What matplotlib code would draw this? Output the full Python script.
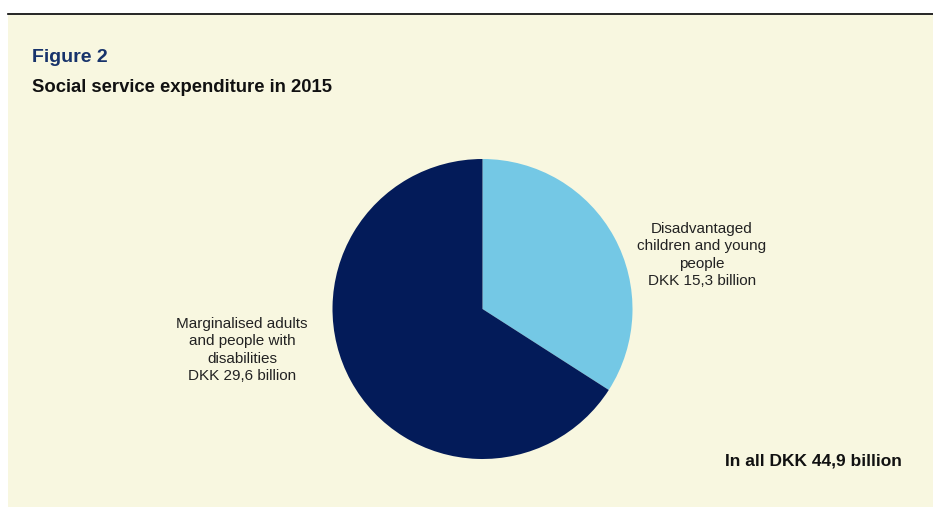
import matplotlib.pyplot as plt
from matplotlib.patches import Rectangle
from matplotlib.lines import Line2D

# Expenditure by area, DKK billion
segments = ["Disadvantaged\nchildren and young\npeople",
            "Marginalised adults\nand people with\ndisabilities"]
values = [15.3, 29.6]
colors = ["#74C8E5", "#031B59"]
total = 44.9

W, H = 933, 507
fig = plt.figure(figsize=(W / 100, H / 100), dpi=100)
fig.patch.set_facecolor("white")

def fx(px):
    return px / W

def fy(py):
    return 1 - py / H

# background panel and rule on top
fig.patches.append(Rectangle((fx(8), 0), 1 - fx(8), fy(15), transform=fig.transFigure,
                             facecolor="#F8F7E0", edgecolor="none", zorder=-5))
fig.lines.append(Line2D([fx(8), 1], [fy(14), fy(14)], transform=fig.transFigure,
                        color="black", lw=1.2, zorder=-4))

plt.rcParams["font.family"] = ["Liberation Sans", "DejaVu Sans"]

fig.text(fx(32), fy(57), "Figure 2", fontsize=14, fontweight="bold",
         color="#17336B", va="center", ha="left")
fig.text(fx(32), fy(88), "Social service expenditure in 2015", fontsize=13.3,
         fontweight="bold", color="#111111", va="center", ha="left")

# pie centred at (482, 309) px, radius 150 px
cx, cy, r = 482.5, 309, 150
ax = fig.add_axes([fx(cx - r), fy(cy + r), (2 * r) / W, (2 * r) / H])
ax.pie(values, colors=colors, startangle=90, counterclock=False, radius=1,
       wedgeprops=dict(linewidth=0))
ax.set_xlim(-1, 1)
ax.set_ylim(-1, 1)
ax.set_axis_off()

label_pos = [(702, 255), (242, 350)]
for name, val, (px, py) in zip(segments, values, label_pos):
    txt = f"{name}\nDKK {val:.1f} billion".replace(".", ",")
    fig.text(fx(px), fy(py), txt, fontsize=11, color="#222222",
             ha="center", va="center", linespacing=1.3)

fig.text(fx(902), fy(461), f"In all DKK {total:.1f} billion".replace(".", ","),
         fontsize=12.5, fontweight="bold", color="#111111", ha="right", va="center")

fig.savefig("out.png", dpi=100, facecolor=fig.get_facecolor())
